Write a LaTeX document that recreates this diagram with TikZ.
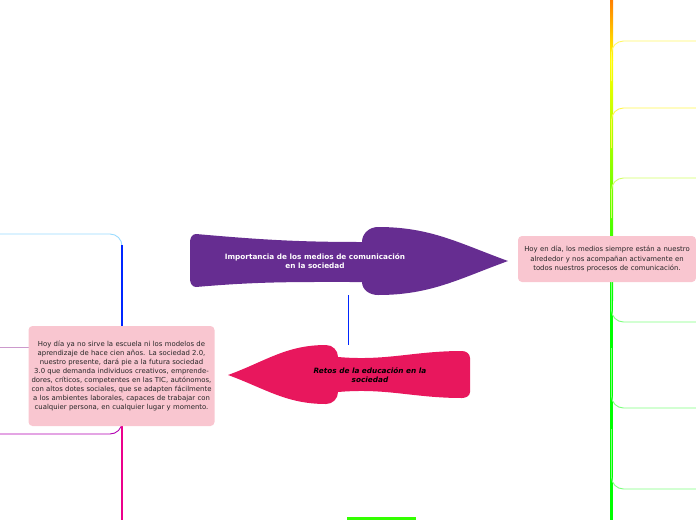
\documentclass[tikz,border=0pt]{standalone}
\usepackage{fontspec}
\setmainfont{DejaVu Sans}
\usetikzlibrary{positioning}
\definecolor{notepink}{HTML}{F9C6D0}
\definecolor{topicpurple}{HTML}{662D91}
\definecolor{topicred}{HTML}{E8175D}
\tikzset{
  notebox/.style={fill=notepink, rounded corners=4pt, align=center, inner sep=3pt, font=\fontsize{6.9}{9.1}\selectfont, text=black!85},
  branch/.style={line width=0.9pt, rounded corners=12pt},
}
\begin{document}
\begin{tikzpicture}[x=1pt,y=-1pt]
\useasboundingbox (0,0) rectangle (696,520);
% right trunk
\shade[top color=orange, bottom color=yellow] (610,0) rectangle (613,60);
\shade[top color=yellow, bottom color=green] (610,60) rectangle (613,300);
\fill[green] (610,300) rectangle (613,520);
\foreach \y/\c in {41/yellow!60, 108/yellow!70, 178/green!30!yellow!60}{
  \draw[branch, \c] (611.5,\y+40) -- (611.5,\y) -- (696,\y);
}
\foreach \y in {322, 408, 489}{
  \draw[branch, green!50] (611.5,\y-60) -- (611.5,\y) -- (696,\y);
}
% left trunk
\draw[branch, blue!35!cyan!40] (0,234) -- (122,234) -- (122,280);
\draw[line width=1.6pt, blue!85!cyan] (122,245) -- (122,425);
\draw[line width=0.9pt, violet!40] (0,347) -- (40,347);
\draw[branch, violet!60!magenta] (0,434) -- (122,434) -- (122,400);
\draw[line width=1.6pt, magenta] (122,425) -- (122,520);
% centre link
\draw[blue!85!cyan, line width=0.8pt] (348,295) -- (348,345);
\fill[green!80!yellow] (347,517) rectangle (416,520);
% main topic
\fill[topicpurple] (196,234) to[out=-5,in=180] (362,242) to[out=90,in=180] (378,227)
  to[out=0,in=160] (508,261) to[out=-160,in=0] (378,295) to[out=180,in=-90] (362,282)
  to[out=180,in=5] (196,287) to[out=180,in=-90] (190,279) -- (190,242) to[out=90,in=180] cycle;
\node[text=white, font=\bfseries\fontsize{7.3}{9}\selectfont, align=center] (medios) at (315,261) {Importancia de los medios de comunicación\\en la sociedad};
% second topic
\fill[topicred] (462,351) to[out=0,in=90] (470,358) -- (470,392) to[out=-90,in=0] (462,398)
  to[out=180,in=5] (338,392) to[out=-90,in=0] (326,404) to[out=180,in=-20] (228,375)
  to[out=20,in=180] (326,345) to[out=0,in=90] (338,357) to[out=-5,in=180] cycle;
\node[font=\bfseries\itshape\fontsize{7.3}{9}\selectfont, align=center] (retos) at (370,375) {Retos de la educación en la\\sociedad};
% notes
\node[notebox, text width=180pt, minimum height=100pt] (notamedios) at (121.5,376) {Hoy día ya no sirve la escuela ni los modelos de aprendizaje de hace cien años. La sociedad 2.0, nuestro presente, dará pie a la futura sociedad 3.0 que demanda individuos creativos, emprendedores, críticos, competentes en las TIC, autónomos, con altos dotes sociales, que se adapten fácilmente a los ambientes laborales, capaces de trabajar con cualquier persona, en cualquier lugar y momento.};
\node[notebox, text width=172pt, minimum height=46pt] (notaretos) at (607,259) {Hoy en día, los medios siempre están a nuestro alrededor y nos acompañan activamente en todos nuestros procesos de comunicación.};
\end{tikzpicture}
\end{document}
